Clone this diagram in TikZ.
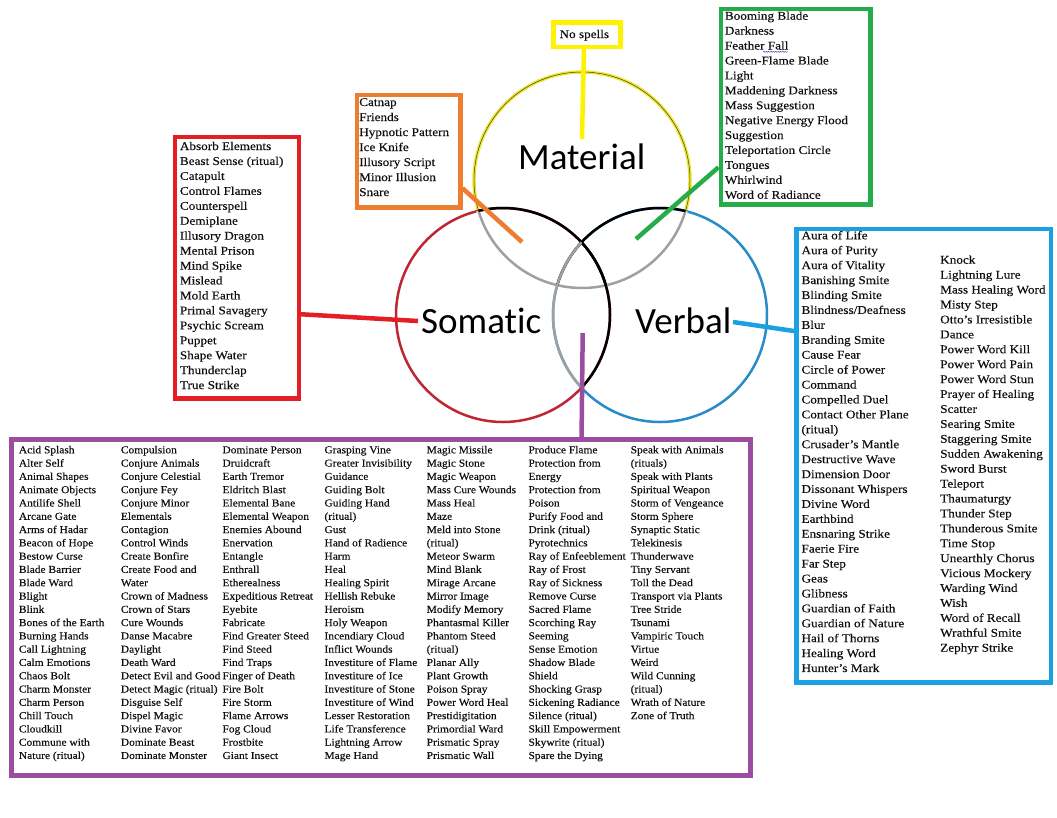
\documentclass[tikz,border=0pt]{standalone}
\usepackage{fontspec}
\setmainfont{Liberation Serif}[FakeStretch=1.12, FakeBold=0.2]
\newfontfamily\smallspellfont{Liberation Serif}[FakeStretch=1.08, FakeBold=0.2]
\newfontfamily\vennfont{Carlito}[Ligatures=NoCommon]
\usetikzlibrary{decorations.pathmorphing}
\definecolor{boxred}{RGB}{227,30,36}
\definecolor{boxorange}{RGB}{237,125,49}
\definecolor{boxgreen}{RGB}{38,172,72}
\definecolor{boxblue}{RGB}{27,161,226}
\definecolor{boxpurple}{RGB}{155,77,160}
\definecolor{boxyellow}{RGB}{255,242,0}
\definecolor{vennred}{RGB}{190,38,48}
\definecolor{vennblue}{RGB}{40,140,200}
\definecolor{venngray}{RGB}{160,160,160}
\definecolor{vennyellow}{RGB}{240,230,40}
\definecolor{spelltext}{RGB}{15,15,15}
\tikzset{
  spellbig/.style={anchor=base west, inner sep=0pt, text=spelltext, font=\fontsize{11.8}{14}\selectfont},
  spellsmall/.style={anchor=base west, inner sep=0pt, text=spelltext, font=\smallspellfont\fontsize{10.6}{12}\selectfont},
  listbox/.style={draw, line width=4.5pt, rectangle, inner sep=0pt, anchor=north west},
  link/.style={line width=4.5pt},
  vennline/.style={line width=2.5pt},
  vennlabel/.style={anchor=base west, inner sep=0pt, font=\vennfont\fontsize{37}{40}\selectfont},
}
\newcommand\spelllist[6]{\foreach \t [count=\i] in {#6} {\node[#1] (#2-\i) at (#3,{#4+(\i-1)*#5}) {\t};}}
\begin{document}
\begin{tikzpicture}[x=1pt,y=-1pt]
\useasboundingbox (0,0) rectangle (1057,817);
\fill[white] (0,0) rectangle (1057,817);

% ---------------- Venn circles ----------------
\coordinate (mc) at (582,180);
\coordinate (sc) at (503,315);
\coordinate (vc) at (660,315);
\draw[line width=3.4pt, vennyellow] (mc) circle[radius=108pt];
\draw[line width=0.5pt, black!75] (mc) circle[radius=108pt];
\draw[vennline, vennred] (sc) circle[radius=107pt];
\draw[vennline, vennblue] (vc) circle[radius=107pt];
\begin{scope}
  \clip (sc) circle[radius=107pt];
  \draw[line width=4.5pt, white] (mc) circle[radius=108pt];
  \draw[vennline, venngray] (mc) circle[radius=108pt];
\end{scope}
\begin{scope}
  \clip (vc) circle[radius=107pt];
  \draw[line width=4.5pt, white] (mc) circle[radius=108pt];
  \draw[vennline, venngray] (mc) circle[radius=108pt];
\end{scope}
\begin{scope}
  \clip (mc) circle[radius=108pt];
  \draw[vennline, black] (sc) circle[radius=107pt];
  \draw[vennline, black] (vc) circle[radius=107pt];
\end{scope}
\begin{scope}
  \clip (vc) circle[radius=107pt];
  \draw[vennline, black] (sc) circle[radius=107pt];
\end{scope}
\begin{scope}
  \clip (sc) circle[radius=107pt];
  \draw[vennline, venngray] (vc) circle[radius=107pt];
\end{scope}

\node[vennlabel] (material) at (518,169) {Material};
\node[vennlabel] (somatic) at (421,333) {Somatic};
\node[vennlabel] (verbal) at (635,333) {Verbal};

% ---------------- boxes ----------------
\node[listbox, draw=boxyellow, minimum width=67, minimum height=24.7] (nospells) at (551,20) {};
\node[listbox, draw=boxorange, minimum width=103.5, minimum height=112.5] (orangebox) at (354.5,92.5) {};
\node[listbox, draw=boxgreen, minimum width=149.5, minimum height=195.5] (greenbox) at (718.5,6.5) {};
\node[listbox, draw=boxred, minimum width=124, minimum height=261.5] (redbox) at (172.5,134.5) {};
\node[listbox, draw=boxblue, minimum width=254.5, minimum height=453.5] (bluebox) at (794,226.5) {};
\node[listbox, draw=boxpurple, minimum width=739, minimum height=336] (purplebox) at (9,437) {};

% ---------------- connectors ----------------
\coordinate (materialpt) at (582,139);
\coordinate (msjoin) at (522,242);
\coordinate (mvjoin) at (636,239);
\coordinate (somaticpt) at (418,321);
\coordinate (verbalpt) at (733,322);
\coordinate (svjoin) at (582.7,333);
\draw[link, boxyellow] ([xshift=-2.8pt]nospells.south) -- (materialpt);
\draw[link, boxorange] ([yshift=-37.25pt]orangebox.east) -- (msjoin);
\draw[link, boxgreen] ([yshift=-60.75pt]greenbox.west) -- (mvjoin);
\draw[link, boxred] ([yshift=-46.75pt]redbox.east) -- (somaticpt);
\draw[link, boxblue] (verbalpt) -- ([yshift=124.5pt]bluebox.west);
\draw[link, boxpurple] (svjoin) -- ([xshift=200.8pt]purplebox.north);

% ---------------- texts ----------------
\node[anchor=base, inner sep=0pt, text=spelltext, font=\fontsize{11.8}{14}\selectfont] (nospellstext) at (584.3,38) {No spells};

\spelllist{spellbig}{orange}{359}{106}{15}{Catnap, Friends, Hypnotic Pattern, Ice Knife, Illusory Script, Minor Illusion, Snare}

\spelllist{spellbig}{green}{724.7}{19.7}{14.92}{Booming Blade, Darkness, Feather Fall, Green-Flame Blade, Light, Maddening Darkness, Mass Suggestion, Negative Energy Flood, Suggestion, Teleportation Circle, Tongues, Whirlwind, Word of Radiance}
\draw[decorate, decoration={snake, amplitude=0.6pt, segment length=2.4pt}, line width=0.45pt, blue!45!gray] (763,51.8) -- (788,51.8);

\spelllist{spellbig}{red}{179.7}{150}{14.94}{Absorb Elements, Beast Sense (ritual), Catapult, Control Flames, Counterspell, Demiplane, Illusory Dragon, Mental Prison, Mind Spike, Mislead, Mold Earth, Primal Savagery, Psychic Scream, Puppet, Shape Water, Thunderclap, True Strike}

\spelllist{spellbig}{blueA}{801.3}{239.3}{14.92}{Aura of Life, Aura of Purity, Aura of Vitality, Banishing Smite, Blinding Smite, Blindness/Deafness, Blur, Branding Smite, Cause Fear, Circle of Power, Command, Compelled Duel, Contact Other Plane, (ritual), Crusader's Mantle, Destructive Wave, Dimension Door, Dissonant Whispers, Divine Word, Earthbind, Ensnaring Strike, Faerie Fire, Far Step, Geas, Glibness, Guardian of Faith, Guardian of Nature, Hail of Thorns, Healing Word, Hunter's Mark}

\spelllist{spellbig}{blueB}{940}{263.7}{14.92}{Knock, Lightning Lure, Mass Healing Word, Misty Step, Otto's Irresistible, Dance, Power Word Kill, Power Word Pain, Power Word Stun, Prayer of Healing, Scatter, Searing Smite, Staggering Smite, Sudden Awakening, Sword Burst, Teleport, Thaumaturgy, Thunder Step, Thunderous Smite, Time Stop, Unearthly Chorus, Vicious Mockery, Warding Wind, Wish, Word of Recall, Wrathful Smite, Zephyr Strike}

\spelllist{spellsmall}{pA}{18.7}{453.3}{13.29}{Acid Splash, Alter Self, Animal Shapes, Animate Objects, Antilife Shell, Arcane Gate, Arms of Hadar, Beacon of Hope, Bestow Curse, Blade Barrier, Blade Ward, Blight, Blink, Bones of the Earth, Burning Hands, Call Lightning, Calm Emotions, Chaos Bolt, Charm Monster, Charm Person, Chill Touch, Cloudkill, Commune with, Nature (ritual)}

\spelllist{spellsmall}{pB}{120.7}{453.3}{13.29}{Compulsion, Conjure Animals, Conjure Celestial, Conjure Fey, Conjure Minor, Elementals, Contagion, Control Winds, Create Bonfire, Create Food and, Water, Crown of Madness, Crown of Stars, Cure Wounds, Danse Macabre, Daylight, Death Ward, Detect Evil and Good, Detect Magic (ritual), Disguise Self, Dispel Magic, Divine Favor, Dominate Beast, Dominate Monster}

\spelllist{spellsmall}{pC}{222.3}{453.3}{13.29}{Dominate Person, Druidcraft, Earth Tremor, Eldritch Blast, Elemental Bane, Elemental Weapon, Enemies Abound, Enervation, Entangle, Enthrall, Etherealness, Expeditious Retreat, Eyebite, Fabricate, Find Greater Steed, Find Steed, Find Traps, Finger of Death, Fire Bolt, Fire Storm, Flame Arrows, Fog Cloud, Frostbite, Giant Insect}

\spelllist{spellsmall}{pD}{324.3}{453.3}{13.29}{Grasping Vine, Greater Invisibility, Guidance, Guiding Bolt, Guiding Hand, (ritual), Gust, Hand of Radience, Harm, Heal, Healing Spirit, Hellish Rebuke, Heroism, Holy Weapon, Incendiary Cloud, Inflict Wounds, Investiture of Flame, Investiture of Ice, Investiture of Stone, Investiture of Wind, Lesser Restoration, Life Transference, Lightning Arrow, Mage Hand}

\spelllist{spellsmall}{pE}{426.5}{453.3}{13.29}{Magic Missile, Magic Stone, Magic Weapon, Mass Cure Wounds, Mass Heal, Maze, Meld into Stone, (ritual), Meteor Swarm, Mind Blank, Mirage Arcane, Mirror Image, Modify Memory, Phantasmal Killer, Phantom Steed, (ritual), Planar Ally, Plant Growth, Poison Spray, Power Word Heal, Prestidigitation, Primordial Ward, Prismatic Spray, Prismatic Wall}

\spelllist{spellsmall}{pF}{528.3}{453.3}{13.29}{Produce Flame, Protection from, Energy, Protection from, Poison, Purify Food and, Drink (ritual), Pyrotechnics, Ray of Enfeeblement, Ray of Frost, Ray of Sickness, Remove Curse, Sacred Flame, Scorching Ray, Seeming, Sense Emotion, Shadow Blade, Shield, Shocking Grasp, Sickening Radiance, Silence (ritual), Skill Empowerment, Skywrite (ritual), Spare the Dying}

\spelllist{spellsmall}{pG}{630.5}{453.3}{13.29}{Speak with Animals, (rituals), Speak with Plants, Spiritual Weapon, Storm of Vengeance, Storm Sphere, Synaptic Static, Telekinesis, Thunderwave, Tiny Servant, Toll the Dead, Transport via Plants, Tree Stride, Tsunami, Vampiric Touch, Virtue, Weird, Wild Cunning, (ritual), Wrath of Nature, Zone of Truth}
\end{tikzpicture}
\end{document}
